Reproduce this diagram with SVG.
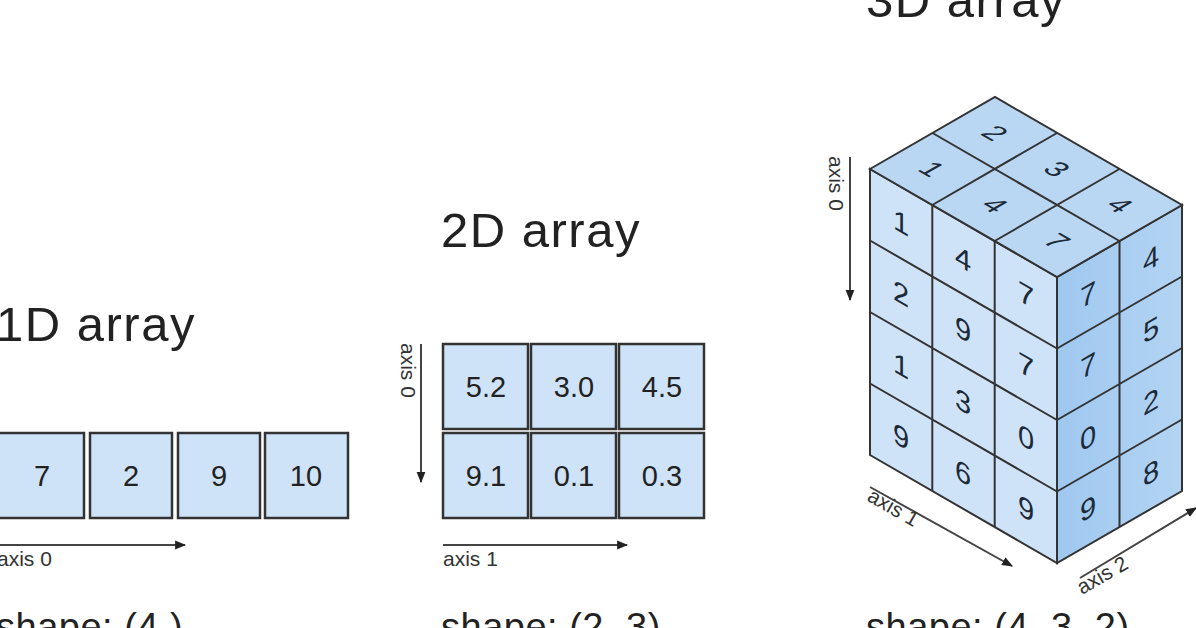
<svg xmlns="http://www.w3.org/2000/svg" width="1196" height="628" viewBox="0 0 1196 628">
<defs>
<marker id="ah" viewBox="0 0 10 10" refX="9" refY="5" markerWidth="11" markerHeight="11" markerUnits="userSpaceOnUse" orient="auto"><path d="M0,1 L10,5 L0,9 z" fill="#222"/></marker>
<style>
.t{font-family:"Liberation Sans",Arial,sans-serif;fill:#222}
.title{font-size:49px;letter-spacing:1.5px}
.shape{font-size:38px;letter-spacing:0.5px}
.ax{font-size:21px;fill:#333}
.cell{fill:#cfe3f8;stroke:#333;stroke-width:2.5}
.num{font-size:29px;text-anchor:middle;dominant-baseline:central}
.cn{font-size:29px;text-anchor:middle;dominant-baseline:central;fill:#1c2a38}
.axl{stroke:#444;stroke-width:2;fill:none;marker-end:url(#ah)}
.g{stroke:#333;stroke-width:2;fill:none}
</style>
<linearGradient id="rg" x1="0" y1="0" x2="1" y2="0"><stop offset="0" stop-color="#9fc8f0"/><stop offset="1" stop-color="#b3d4f3"/></linearGradient>
</defs>
<rect width="1196" height="628" fill="#fff"/>
<text class="t title" x="-4" y="341">1D array</text>
<text class="t title" x="441" y="247">2D array</text>
<text class="t title" x="866" y="17">3D array</text>
<text class="t shape" x="-4" y="640">shape: (4,)</text>
<text class="t shape" x="441" y="640">shape: (2, 3)</text>
<text class="t shape" x="866" y="640">shape: (4, 3, 2)</text>

<g id="array1d">
<rect class="cell" x="-4" y="433" width="88" height="85"/>
<rect class="cell" x="90" y="433" width="82" height="85"/>
<rect class="cell" x="178" y="433" width="82" height="85"/>
<rect class="cell" x="265" y="433" width="83" height="85"/>
<text class="t num" x="42" y="476">7</text>
<text class="t num" x="131" y="476">2</text>
<text class="t num" x="219" y="476">9</text>
<text class="t num" x="306" y="476">10</text>
</g>

<g id="array2d">
<rect class="cell" x="443" y="344" width="85" height="85"/>
<rect class="cell" x="531" y="344" width="85" height="85"/>
<rect class="cell" x="619" y="344" width="85" height="85"/>
<rect class="cell" x="443" y="433" width="85" height="85"/>
<rect class="cell" x="531" y="433" width="85" height="85"/>
<rect class="cell" x="619" y="433" width="85" height="85"/>
<text class="t num" x="486" y="387">5.2</text>
<text class="t num" x="574" y="387">3.0</text>
<text class="t num" x="662" y="387">4.5</text>
<text class="t num" x="486" y="476">9.1</text>
<text class="t num" x="574" y="476">0.1</text>
<text class="t num" x="662" y="476">0.3</text>
</g>

<g id="array3d">
<polygon points="870,169 1057,277 1057,563 870,455" fill="#cfe3f8" stroke="#333" stroke-width="2"/>
<polygon points="1057,277 1182,205 1182,491 1057,563" fill="url(#rg)" stroke="#333" stroke-width="2"/>
<polygon points="870,169 995,97 1182,205 1057,277" fill="#b9d7f3" stroke="#333" stroke-width="2"/>
<path class="g" d="M932.3,205 V491 M994.7,241 V527 M870,240.5 L1057,348.5 M870,312 L1057,420 M870,383.5 L1057,491.5 M1119.5,241 V527 M1057,348.5 L1182,276.5 M1057,420 L1182,348 M1057,491.5 L1182,419.5 M932.3,205 L1057,133 M994.7,241 L1119.5,169 M932.5,133 L1119.5,241"/>
<text class="t cn" transform="matrix(1,0.577,0,1,901,223)">1</text>
<text class="t cn" transform="matrix(1,0.577,0,1,901,294)">2</text>
<text class="t cn" transform="matrix(1,0.577,0,1,901,366)">1</text>
<text class="t cn" transform="matrix(1,0.577,0,1,901,437)">9</text>
<text class="t cn" transform="matrix(1,0.577,0,1,963,259)">4</text>
<text class="t cn" transform="matrix(1,0.577,0,1,963,330)">9</text>
<text class="t cn" transform="matrix(1,0.577,0,1,963,402)">3</text>
<text class="t cn" transform="matrix(1,0.577,0,1,963,473)">6</text>
<text class="t cn" transform="matrix(1,0.577,0,1,1026,295)">7</text>
<text class="t cn" transform="matrix(1,0.577,0,1,1026,366)">7</text>
<text class="t cn" transform="matrix(1,0.577,0,1,1026,438)">0</text>
<text class="t cn" transform="matrix(1,0.577,0,1,1026,509)">9</text>
<text class="t cn" transform="matrix(1,-0.577,0,1,1088,295)">7</text>
<text class="t cn" transform="matrix(1,-0.577,0,1,1088,366)">7</text>
<text class="t cn" transform="matrix(1,-0.577,0,1,1088,438)">0</text>
<text class="t cn" transform="matrix(1,-0.577,0,1,1088,509)">9</text>
<text class="t cn" transform="matrix(1,-0.577,0,1,1151,259)">4</text>
<text class="t cn" transform="matrix(1,-0.577,0,1,1151,330)">5</text>
<text class="t cn" transform="matrix(1,-0.577,0,1,1151,402)">2</text>
<text class="t cn" transform="matrix(1,-0.577,0,1,1151,473)">8</text>
<text class="t cn" transform="matrix(0.866,0.5,-0.866,0.5,932,169)">1</text>
<text class="t cn" transform="matrix(0.866,0.5,-0.866,0.5,995,133)">2</text>
<text class="t cn" transform="matrix(0.866,0.5,-0.866,0.5,995,205)">4</text>
<text class="t cn" transform="matrix(0.866,0.5,-0.866,0.5,1057,169)">3</text>
<text class="t cn" transform="matrix(0.866,0.5,-0.866,0.5,1057,241)">7</text>
<text class="t cn" transform="matrix(0.866,0.5,-0.866,0.5,1120,205)">4</text>
</g>

<g id="connectors">
<line class="axl" x1="0" y1="545" x2="185" y2="545"/>
<line class="axl" x1="443" y1="545" x2="627" y2="545"/>
<line class="axl" x1="421" y1="344" x2="421" y2="482"/>
<line class="axl" x1="850" y1="157" x2="850" y2="300"/>
<line class="axl" x1="870" y1="487" x2="1012" y2="566"/>
<line class="axl" x1="1080" y1="578" x2="1196" y2="508"/>
</g>
<text class="t ax" x="-3" y="566">axis 0</text>
<text class="t ax" x="443" y="566">axis 1</text>
<text class="t ax" transform="translate(401,343) rotate(90)">axis 0</text>
<text class="t ax" transform="translate(829,156) rotate(90)">axis 0</text>
<text class="t ax" transform="translate(866,500) rotate(30)">axis 1</text>
<text class="t ax" transform="translate(1082,595) rotate(-30)">axis 2</text>
</svg>
